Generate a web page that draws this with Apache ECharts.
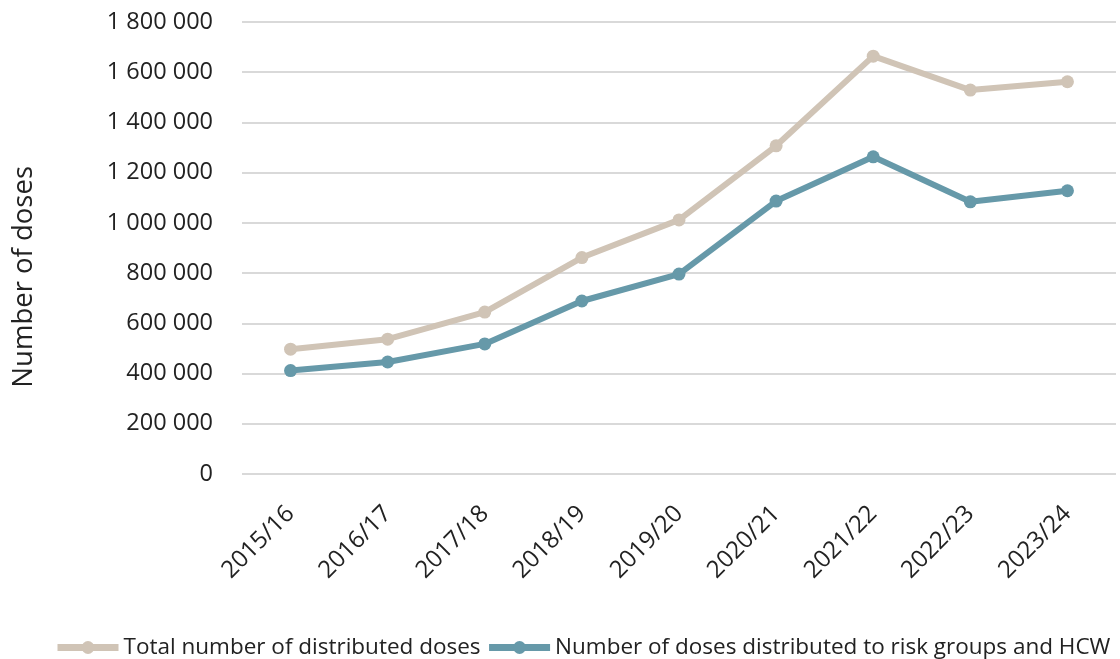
<!DOCTYPE html>
<html>
<head>
<meta charset="utf-8">
<script src="https://cdn.jsdelivr.net/npm/echarts@6/dist/echarts.min.js"></script>
<style>
  html, body { margin: 0; padding: 0; background: #ffffff; }
  #chart { width: 1120px; height: 659px; }
</style>
</head>
<body>
<div id="chart"></div>
<script>
// Influenza vaccine doses per season
const seasons = ['2015/16', '2016/17', '2017/18', '2018/19', '2019/20', '2020/21', '2021/22', '2022/23', '2023/24'];
const totalDoses = [497000, 537000, 645000, 862000, 1012000, 1307000, 1664000, 1529000, 1562000];
const riskGroupDoses = [412000, 446000, 518000, 689000, 796000, 1087000, 1263000, 1084000, 1128000];
const seriesNames = ['Total number of distributed doses', 'Number of doses distributed to risk groups and HCW'];
const yAxisTitle = 'Number of doses';

const FONT = '"Open Sans", "Liberation Sans", sans-serif';
const TEXT = '#222222';
const BEIGE = '#d0c4b6';
const TEAL = '#6699a9';

// thousands separated by spaces, e.g. 1 800 000
function spaced(v) {
  return String(v).replace(/\B(?=(\d{3})+(?!\d))/g, ' ');
}

const chart = echarts.init(document.getElementById('chart'), null, { renderer: 'canvas' });
chart.setOption({
  animation: false,
  backgroundColor: '#ffffff',
  grid: { left: 242, right: 4, top: 22, bottom: 185, containLabel: false },
  graphic: [{
    type: 'text',
    left: 10,
    top: 166,
    rotation: Math.PI / 2,
    style: {
      text: yAxisTitle,
      font: '27.5px ' + FONT,
      fill: TEXT
    }
  }],
  legend: {
    bottom: 0,
    left: 54,
    right: 0,
    padding: 0,
    itemWidth: 61,
    itemHeight: 16,
    itemGap: 5,
    lineStyle: { width: 7 },
    textStyle: { fontFamily: FONT, fontSize: 22.5, color: TEXT },
    data: seriesNames
  },
  xAxis: {
    type: 'category',
    data: seasons,
    boundaryGap: true,
    axisLine: { show: false },
    axisTick: { show: false },
    axisLabel: {
      rotate: 45,
      margin: 36,
      fontFamily: FONT,
      fontSize: 24,
      color: TEXT
    }
  },
  yAxis: {
    type: 'value',
    min: 0,
    max: 1800000,
    interval: 200000,
    axisLine: { show: false },
    axisTick: { show: false },
    axisLabel: {
      margin: 29,
      fontFamily: FONT,
      fontSize: 23.5,
      color: TEXT,
      formatter: spaced
    },
    splitLine: { lineStyle: { color: '#d9d9d9', width: 2 } }
  },
  series: [
    {
      name: seriesNames[0],
      type: 'line',
      data: totalDoses,
      color: BEIGE,
      symbol: 'circle',
      symbolSize: 13,
      lineStyle: { width: 6, color: BEIGE },
      itemStyle: { color: BEIGE }
    },
    {
      name: seriesNames[1],
      type: 'line',
      data: riskGroupDoses,
      color: TEAL,
      symbol: 'circle',
      symbolSize: 13,
      lineStyle: { width: 6, color: TEAL },
      itemStyle: { color: TEAL }
    }
  ]
});
</script>
</body>
</html>
